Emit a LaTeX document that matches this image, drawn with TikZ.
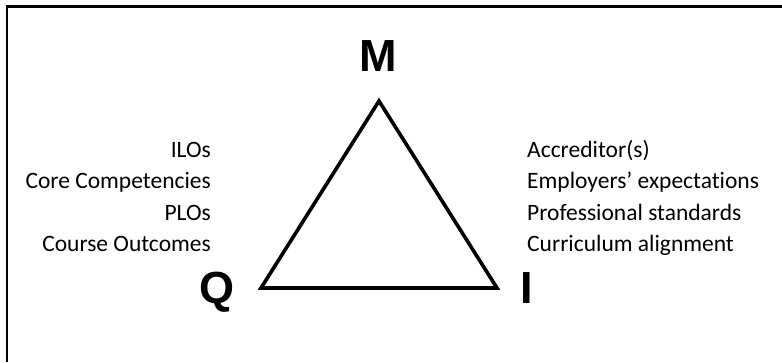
\documentclass[tikz,border=0pt]{standalone}
\usepackage{fontspec}
\setmainfont[Ligatures=NoCommon]{Carlito}
\newfontfamily\cornerfont{Liberation Sans}
\usetikzlibrary{positioning}

\begin{document}
\begin{tikzpicture}[x=1pt, y=-1pt, corner/.style={font=\cornerfont\bfseries\fontsize{45}{45}\selectfont, inner sep=0pt}, item/.style={font=\fontsize{23.5}{23.5}\selectfont, inner sep=0pt}, side/.style={line width=3.6pt, line join=miter}]
	\useasboundingbox (0,0) rectangle (782,362);
	% Frame (left and top edges only)
	\draw [line width=2.5pt] (7,362) -- (7,6.5) -- (782,6.5);

	% Vertices {m, q, i}
	\coordinate (m) at (379,101);
	\coordinate (q) at (261,288);
	\coordinate (i) at (497,288);

	% Corner labels
	\node [corner, anchor=base] (lm) at (378,71)  {M};
	\node [corner, anchor=base] (lq) at (217,303) {Q};
	\node [corner, anchor=base] (li) at (527,303) {I};

	% Left list
	\node [item, anchor=base east] (ilo)  at (211,157) {ILOs};
	\node [item, anchor=base east] (core) at (211,188) {Core Competencies};
	\node [item, anchor=base east] (plo)  at (211,220) {PLOs};
	\node [item, anchor=base east] (co)   at (211,251) {Course Outcomes};

	% Right list
	\node [item, anchor=base west] (acc)  at (527,157) {Accreditor(s)};
	\node [item, anchor=base west] (emp)  at (527,188) {Employers’ expectations};
	\node [item, anchor=base west] (prof) at (527,220) {Professional standards};
	\node [item, anchor=base west] (cur)  at (527,251) {Curriculum alignment};

	% Triangle
	\draw [side] (m) -- (i) -- (q) -- cycle;
\end{tikzpicture}
\end{document}
